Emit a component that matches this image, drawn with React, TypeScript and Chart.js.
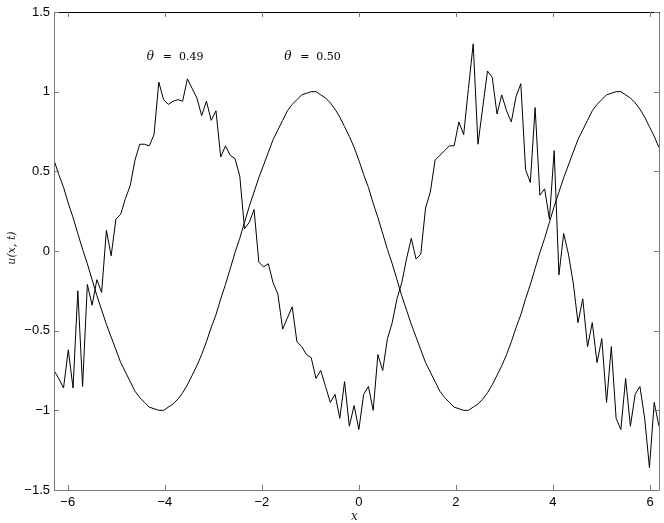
import { useEffect, useRef } from "react";
import { Chart, registerables } from "chart.js";

Chart.register(...registerables);

// x grid: 128 samples from -2π in steps of 4π/128
const X_START = -6.2832;
const X_STEP = 0.09817;
const X_MIN = -6.2832;
const X_MAX = 6.1850;
const Y_MIN = -1.5;
const Y_MAX = 1.5;
const X_TICKS = [-6, -4, -2, 0, 2, 4, 6];
const Y_TICKS = [-1.5, -1, -0.5, 0, 0.5, 1, 1.5];

// smooth curve (θ = 0.50)
const SMOOTH = [
  0.57, 0.48, 0.40, 0.30, 0.21, 0.11, 0.01, -0.08, -0.18, -0.28, -0.37, -0.46, -0.54, -0.62, -0.70, -0.76,
  -0.82, -0.88, -0.92, -0.95, -0.98, -0.99, -1.00, -1.00, -0.98, -0.96, -0.93, -0.89, -0.84, -0.78, -0.72, -0.65,
  -0.57, -0.48, -0.40, -0.30, -0.21, -0.11, -0.01, 0.08, 0.18, 0.28, 0.37, 0.46, 0.54, 0.62, 0.70, 0.76,
  0.82, 0.88, 0.92, 0.95, 0.98, 0.99, 1.00, 1.00, 0.98, 0.96, 0.93, 0.89, 0.84, 0.78, 0.72, 0.65,
  0.57, 0.48, 0.40, 0.30, 0.21, 0.11, 0.01, -0.08, -0.18, -0.28, -0.37, -0.46, -0.54, -0.62, -0.70, -0.76,
  -0.82, -0.88, -0.92, -0.95, -0.98, -0.99, -1.00, -1.00, -0.98, -0.96, -0.93, -0.89, -0.84, -0.78, -0.72, -0.65,
  -0.57, -0.48, -0.40, -0.30, -0.21, -0.11, -0.01, 0.08, 0.18, 0.28, 0.37, 0.46, 0.54, 0.62, 0.70, 0.76,
  0.82, 0.88, 0.92, 0.95, 0.98, 0.99, 1.00, 1.00, 0.98, 0.96, 0.93, 0.89, 0.84, 0.78, 0.72, 0.65,
];

// noisy curve (θ = 0.49)
const NOISY = [
  -0.75, -0.80, -0.86, -0.62, -0.86, -0.25, -0.85, -0.21, -0.34, -0.18, -0.26, 0.13, -0.03, 0.20, 0.23, 0.33,
  0.41, 0.57, 0.67, 0.67, 0.66, 0.73, 1.06, 0.95, 0.92, 0.94, 0.95, 0.94, 1.08, 1.02, 0.96, 0.85,
  0.94, 0.82, 0.88, 0.59, 0.66, 0.60, 0.58, 0.47, 0.14, 0.18, 0.26, -0.07, -0.10, -0.08, -0.20, -0.27,
  -0.49, -0.42, -0.35, -0.57, -0.60, -0.65, -0.67, -0.80, -0.75, -0.85, -0.95, -0.90, -1.05, -0.82, -1.10, -0.97,
  -1.12, -0.90, -0.85, -1.00, -0.65, -0.75, -0.55, -0.45, -0.30, -0.20, -0.05, 0.08, -0.05, -0.02, 0.27, 0.37,
  0.57, 0.60, 0.63, 0.66, 0.66, 0.81, 0.73, 1.02, 1.30, 0.67, 0.90, 1.13, 1.09, 0.86, 0.98, 0.88,
  0.81, 0.97, 1.05, 0.51, 0.43, 0.90, 0.35, 0.39, 0.20, 0.63, -0.15, 0.11, -0.02, -0.20, -0.45, -0.30,
  -0.60, -0.45, -0.70, -0.55, -0.95, -0.60, -1.05, -1.12, -0.80, -1.10, -0.90, -0.85, -1.05, -1.36, -0.95, -1.10,
];

const THETA_LABELS = ["0.49", "0.50"];
const THETA_X = [-4.37, -1.54];
const THETA_Y = 1.2;
const X_TITLE = "x";
const Y_TITLE = "u(x, t)";

const fmt = (v: number) => String(v).replace("-", "\u2212");

const decorPlugin = {
  id: "decor",
  afterDatasetsDraw(chart: any) {
    const { ctx, chartArea, scales } = chart;
    const { left, right, top, bottom } = chartArea;
    const xs = scales.x;
    const ys = scales.y;
    ctx.save();
    // box
    ctx.lineWidth = 1;
    ctx.strokeStyle = "#7a7a7a";
    ctx.beginPath();
    ctx.moveTo(left + 0.5, top);
    ctx.lineTo(left + 0.5, bottom + 0.5);
    ctx.lineTo(right + 0.5, bottom + 0.5);
    ctx.lineTo(right + 0.5, top);
    ctx.stroke();
    ctx.strokeStyle = "#000";
    ctx.beginPath();
    ctx.moveTo(left, top + 0.5);
    ctx.lineTo(right + 1, top + 0.5);
    ctx.stroke();
    // inward ticks
    ctx.strokeStyle = "#7a7a7a";
    const tl = 5;
    ctx.beginPath();
    X_TICKS.forEach((v) => {
      const px = Math.round(xs.getPixelForValue(v)) + 0.5;
      ctx.moveTo(px, bottom);
      ctx.lineTo(px, bottom - tl);
      ctx.moveTo(px, top);
      ctx.lineTo(px, top + tl);
    });
    Y_TICKS.forEach((v) => {
      const py = Math.round(ys.getPixelForValue(v)) + 0.5;
      ctx.moveTo(left, py);
      ctx.lineTo(left + tl, py);
      ctx.moveTo(right, py);
      ctx.lineTo(right - tl, py);
    });
    ctx.stroke();
    // theta labels
    ctx.fillStyle = "#000";
    ctx.textBaseline = "alphabetic";
    ctx.textAlign = "left";
    THETA_LABELS.forEach((lab, i) => {
      const px = xs.getPixelForValue(THETA_X[i]);
      const py = ys.getPixelForValue(THETA_Y);
      ctx.font = "italic 12px 'DejaVu Serif'";
      ctx.fillText("\u03b8", px, py);
      ctx.font = "11px 'DejaVu Serif'";
      ctx.fillText("=  " + lab, px + 16, py);
    });
    // axis titles
    ctx.fillStyle = "#222";
    ctx.font = "italic 12px 'DejaVu Serif'";
    ctx.textAlign = "center";
    ctx.fillText(X_TITLE, (left + right) / 2 - 2, bottom + 30);
    ctx.save();
    ctx.translate(15, (top + bottom) / 2 - 3);
    ctx.rotate(-Math.PI / 2);
    ctx.font = "italic 11px 'DejaVu Serif'";
    ctx.fillText(Y_TITLE, 0, 0);
    ctx.restore();
    ctx.restore();
  },
};

export default function App() {
  const ref = useRef<HTMLCanvasElement | null>(null);
  useEffect(() => {
    document.body.style.margin = "0";
    const canvas = ref.current;
    if (!canvas) return;
    const toPts = (arr: number[]) => arr.map((v, i) => ({ x: X_START + i * X_STEP, y: v }));
    const chart = new Chart(canvas, {
      type: "line",
      data: {
        datasets: [
          {
            data: toPts(NOISY),
            borderColor: "#000",
            borderWidth: 1,
            pointRadius: 0,
            tension: 0,
          },
          {
            data: toPts(SMOOTH),
            borderColor: "#000",
            borderWidth: 1,
            pointRadius: 0,
            tension: 0,
          },
        ],
      },
      options: {
        animation: false,
        responsive: false,
        devicePixelRatio: 1,
        layout: { padding: { left: 0, top: 12, right: 5, bottom: 0 } },
        plugins: { legend: { display: false }, tooltip: { enabled: false } },
        scales: {
          x: {
            type: "linear",
            min: X_MIN,
            max: X_MAX,
            grid: { display: false, drawTicks: false },
            border: { display: false },
            afterBuildTicks: (s: any) => {
              s.ticks = X_TICKS.map((v) => ({ value: v }));
            },
            afterFit: (s: any) => {
              s.height = 33;
            },
            ticks: {
              padding: 5,
              color: "#000",
              maxRotation: 0,
              font: { family: "'Liberation Sans', Arial, sans-serif", size: 13 },
              callback: (v: any) => fmt(Number(v)),
            },
          },
          y: {
            type: "linear",
            min: Y_MIN,
            max: Y_MAX,
            grid: { display: false, drawTicks: false },
            border: { display: false },
            afterBuildTicks: (s: any) => {
              s.ticks = Y_TICKS.map((v) => ({ value: v }));
            },
            afterFit: (s: any) => {
              s.width = 54;
            },
            ticks: {
              padding: 4,
              color: "#000",
              font: { family: "'Liberation Sans', Arial, sans-serif", size: 13 },
              callback: (v: any) => fmt(Number(v)),
            },
          },
        },
      },
      plugins: [decorPlugin],
    });
    return () => chart.destroy();
  }, []);
  return (
    <div style={{ width: 664, height: 523, background: "#fff" }}>
      <canvas ref={ref} width={664} height={523} style={{ display: "block" }} />
    </div>
  );
}
